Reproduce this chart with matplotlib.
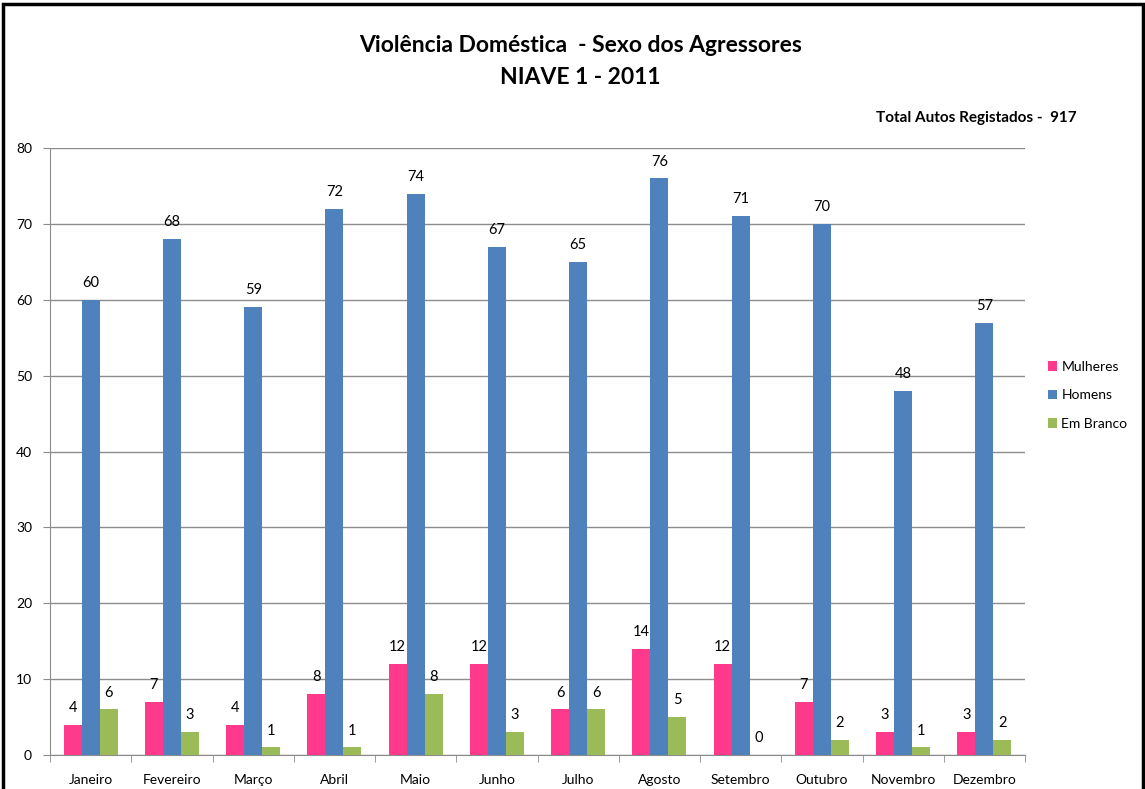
import numpy as np
import matplotlib.pyplot as plt
from matplotlib.patches import Rectangle

plt.rcParams['font.family'] = ['Lato', 'DejaVu Sans']

# data
meses = ["Janeiro", "Fevereiro", "Março", "Abril", "Maio", "Junho",
         "Julho", "Agosto", "Setembro", "Outubro", "Novembro", "Dezembro"]
mulheres = [4, 7, 4, 8, 12, 12, 6, 14, 12, 7, 3, 3]
homens = [60, 68, 59, 72, 74, 67, 65, 76, 71, 70, 48, 57]
em_branco = [6, 3, 1, 1, 8, 3, 6, 5, 0, 2, 1, 2]
series_names = ["Mulheres", "Homens", "Em Branco"]
cores = ["#FF3A8C", "#4F81BD", "#9BBB59"]

fig = plt.figure(figsize=(11.45, 7.89), dpi=100)
ax = fig.add_axes([0.0437, 0.0431, 0.8515, 0.7693])

x = np.arange(len(meses))
w = 0.222
for i, (vals, nome, cor) in enumerate(zip([mulheres, homens, em_branco], series_names, cores)):
    pos = x + (i - 1) * w
    ax.bar(pos, vals, width=w, color=cor, label=nome, zorder=3)
    for p, v in zip(pos, vals):
        ax.text(p, v + 1.3, str(v), ha="center", va="bottom", fontsize=10.5)

ax.set_xlim(-0.5, len(meses) - 0.5)
ax.set_ylim(0, 80)
ax.set_yticks(range(0, 81, 10))
ax.yaxis.grid(True, color="#8c8c8c", linewidth=1, zorder=0)
ax.set_xticks(x)
ax.set_xticklabels(meses, fontsize=10)
ax.set_xticks(np.arange(-0.5, len(meses)), minor=True)
ax.tick_params(axis="x", which="major", length=0, pad=14)
ax.tick_params(axis="x", which="minor", length=5, color="#8c8c8c")
ax.tick_params(axis="y", length=5, color="#8c8c8c", labelsize=10, pad=8)
for s in ["top", "right"]:
    ax.spines[s].set_visible(False)
ax.spines["left"].set_color("#8c8c8c")
ax.spines["bottom"].set_color("#8c8c8c")

fig.text(0.507, 0.942, "Violência Doméstica  - Sexo dos Agressores", ha="center", va="center",
         fontsize=16.5, fontweight="bold")
fig.text(0.507, 0.902, "NIAVE 1 - 2011", ha="center", va="center",
         fontsize=16.5, fontweight="bold")
fig.text(0.94, 0.851, "Total Autos Registados -  917", ha="right", va="center",
         fontsize=11, fontweight="bold")

fig.legend(loc="center left", bbox_to_anchor=(0.904, 0.499), frameon=False,
           fontsize=10, handlelength=0.7, handleheight=0.7, handletextpad=0.3,
           labelspacing=1.2)

fig.patches.append(Rectangle((0.003, -0.1), 0.995, 1.095, transform=fig.transFigure,
                             fill=False, edgecolor="black", linewidth=2.5))

fig.savefig("out.png", dpi=100)
